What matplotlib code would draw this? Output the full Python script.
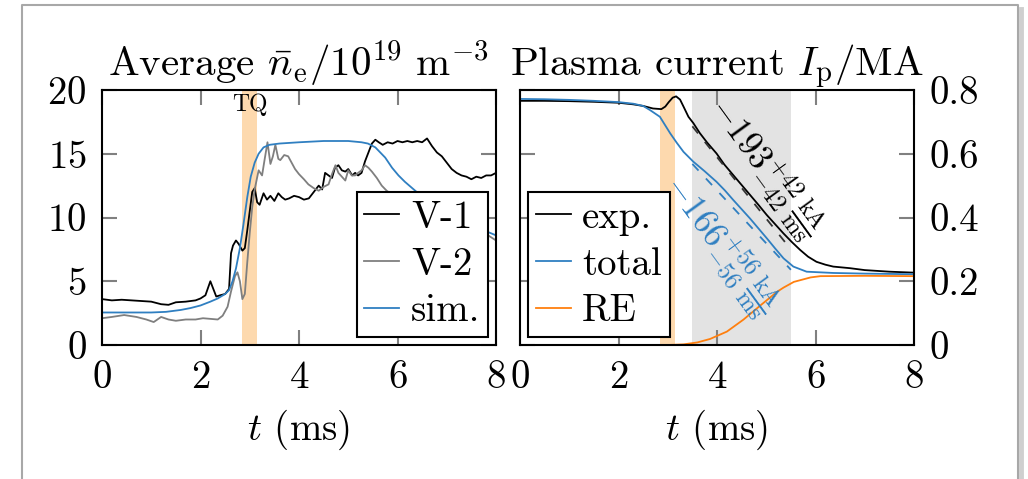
import numpy as np
import matplotlib
matplotlib.use('Agg')
import matplotlib.pyplot as plt
from matplotlib.lines import Line2D

plt.rcParams['font.family'] = 'serif'
plt.rcParams['font.serif'] = ['cmr10']
plt.rcParams['mathtext.fontset'] = 'cm'
plt.rcParams['axes.unicode_minus'] = False
plt.rcParams['axes.formatter.use_mathtext'] = True

# density panel
t_v1 = [0, 0.2, 0.4, 0.6, 0.8, 1.0, 1.2, 1.35, 1.5, 1.7, 1.9, 2.0, 2.1, 2.2, 2.25, 2.32, 2.4, 2.5,
        2.58, 2.62, 2.66, 2.72, 2.78, 2.85, 2.9, 2.95, 3.0, 3.05, 3.1, 3.15, 3.2, 3.28, 3.35, 3.42,
        3.5, 3.58, 3.65, 3.72, 3.8, 3.9, 4.0, 4.1, 4.2, 4.3, 4.4, 4.47, 4.53, 4.6, 4.67, 4.73, 4.8,
        4.87, 4.94, 5.0, 5.08, 5.14, 5.2, 5.27, 5.34, 5.4, 5.48, 5.55, 5.62, 5.7, 5.8, 5.9, 6.0,
        6.1, 6.2, 6.3, 6.4, 6.5, 6.6, 6.7, 6.8, 6.9, 7.0, 7.1, 7.2, 7.3, 7.4, 7.5, 7.6, 7.7, 7.8,
        7.9, 8.0]
ne_v1 = [3.6, 3.5, 3.55, 3.5, 3.45, 3.4, 3.2, 3.15, 3.35, 3.4, 3.5, 3.65, 3.9, 5.0, 4.5, 3.8, 3.9, 4.0,
         4.4, 7.2, 7.8, 8.2, 7.9, 7.4, 7.6, 9.0, 10.5, 12.0, 12.3, 11.2, 11.0, 11.9, 11.4, 11.7,
         11.3, 11.9, 11.6, 11.4, 11.5, 11.7, 11.6, 11.4, 11.5, 12.0, 12.5, 12.2, 13.5, 13.3, 13.1, 13.9, 14.1,
         13.7, 13.6, 13.8, 13.3, 13.5, 13.3, 13.5, 14.4, 15.0, 15.8, 16.1, 15.9, 15.7, 15.9, 15.8, 16.0,
         15.9, 16.0, 15.9, 16.0, 15.9, 16.2, 15.6, 15.1, 14.8, 14.3, 13.8, 13.5, 13.3, 13.2, 13.0, 13.2, 13.1, 13.3,
         13.3, 13.5]

t_v2 = [0, 0.2, 0.45, 0.7, 0.9, 1.05, 1.2, 1.35, 1.5, 1.7, 1.9, 2.05, 2.2, 2.35, 2.45, 2.55, 2.62,
        2.7, 2.75, 2.8, 2.85, 2.9, 2.95, 3.0, 3.05, 3.1, 3.18, 3.25, 3.3, 3.36, 3.42, 3.47, 3.52,
        3.58, 3.62, 3.7, 3.78, 3.85, 3.92, 4.0, 4.1, 4.19, 4.3, 4.4, 4.5, 4.6, 4.67, 4.74, 4.8, 4.87,
        4.94, 5.0, 5.07, 5.14, 5.2, 5.27, 5.34, 5.41, 5.48, 5.58, 5.68, 5.78, 6.0, 6.5, 7.0, 7.5,
        7.84, 8.0]
ne_v2 = [2.1, 2.2, 2.35, 2.2, 2.0, 1.8, 2.2, 2.0, 1.9, 2.0, 2.0, 2.1, 2.05, 2.0, 2.3, 3.0, 4.2,
         5.4, 5.7, 5.0, 3.6, 4.0, 6.5, 8.8, 10.8, 12.2, 13.7, 13.3, 14.5, 15.9, 14.2, 14.8, 15.7,
         14.6, 14.5, 14.9, 14.8, 14.3, 13.8, 13.4, 13.0, 12.6, 12.3, 12.1, 12.4, 12.6, 13.4, 14.1, 13.5, 13.2,
         12.9, 13.7, 13.3, 13.3, 13.5, 13.7, 14.1, 13.9, 13.6, 13.1, 12.5, 12.1, 11.5, 10.5, 9.8, 9.0,
         8.6, 8.2]

t_sim = [0, 0.5, 1.0, 1.3, 1.6, 1.8, 2.0, 2.2, 2.35, 2.5, 2.58, 2.65, 2.72, 2.8, 2.87, 2.95, 3.02,
         3.1, 3.18, 3.28, 3.4, 3.6, 4.0, 4.5, 5.0, 5.27, 5.4, 5.55, 5.65, 5.75, 5.89, 6.02, 6.15,
         6.33, 6.6, 7.0, 7.5, 8.0]
ne_sim = [2.55, 2.55, 2.55, 2.6, 2.75, 2.9, 3.1, 3.4, 3.65, 4.0, 4.3, 5.0, 6.0, 7.6, 9.4, 11.6, 13.2,
          14.3, 15.0, 15.5, 15.7, 15.8, 15.9, 16.0, 16.0, 15.9, 15.8, 15.5, 15.1, 14.7, 13.9, 13.3, 12.8,
          12.2, 11.3, 10.3, 9.4, 8.6]

# current panel
t_exp = [0, 0.5, 1.0, 1.5, 2.0, 2.3, 2.5, 2.7, 2.87, 2.95, 3.02, 3.1, 3.17, 3.25, 3.32, 3.42, 3.52,
         3.65, 3.8, 3.99, 4.15, 4.33, 4.5, 4.67, 4.84, 5.01, 5.18, 5.35, 5.52, 5.69, 5.85, 6.02, 6.2,
         6.36, 6.7, 7.0, 7.5, 8.0]
ip_exp = [0.766, 0.766, 0.765, 0.763, 0.76, 0.755, 0.75, 0.742, 0.74, 0.748, 0.762, 0.776, 0.78, 0.77,
          0.748, 0.716, 0.696, 0.665, 0.635, 0.601, 0.566, 0.533, 0.502, 0.471, 0.44, 0.408, 0.379,
          0.35, 0.323, 0.298, 0.277, 0.261, 0.252, 0.246, 0.241, 0.235, 0.23, 0.227]

t_tot = [0, 0.5, 1.0, 1.5, 2.0, 2.3, 2.5, 2.64, 2.84, 3.05, 3.18, 3.32, 3.52, 3.75, 3.99, 4.16, 4.33,
         4.5, 4.67, 4.84, 5.01, 5.18, 5.35, 5.55, 5.82, 6.36, 7.0, 8.0]
ip_tot = [0.772, 0.771, 0.769, 0.766, 0.762, 0.757, 0.75, 0.737, 0.716, 0.664, 0.635, 0.606, 0.575,
          0.545, 0.512, 0.485, 0.455, 0.426, 0.397, 0.366, 0.335, 0.303, 0.272, 0.246, 0.23, 0.226,
          0.224, 0.222]

t_re = [2.45, 3.0, 3.32, 3.6, 3.86, 4.2, 4.54, 4.88, 5.22, 5.35, 5.56, 5.9, 6.1, 7.0, 8.0]
ip_re = [0.0, 0.0, 0.002, 0.008, 0.019, 0.042, 0.08, 0.124, 0.167, 0.18, 0.198, 0.212, 0.216, 0.217, 0.216]

# linear fits in the gray window (MA/ms)
fit_t = [3.5, 5.5]
fit_exp = [0.686, 0.300]
fit_tot = [0.568, 0.236]

tq_band = (2.85, 3.15)
cq_band = (3.5, 5.5)

xticks = [0, 2, 4, 6, 8]
ne_ticks = [0, 5, 10, 15, 20]
ip_ticks = [0, 0.2, 0.4, 0.6, 0.8]
ip_ticklabels = ['0', '0.2', '0.4', '0.6', '0.8']

blue = '#2f7fc1'
orange = '#ff7f0e'
fs = 28

W, H = 1028, 479
fig = plt.figure(figsize=(W / 100, H / 100), dpi=100)

# page frame with shadow
fig.add_artist(Line2D([1021 / W, 1021 / W], [0, 1 - 9 / H], transform=fig.transFigure,
                      color='#cfcfcf', lw=3.5))
fig.add_artist(Line2D([22 / W, 22 / W, 1018 / W, 1018 / W], [0, 1 - 5 / H, 1 - 5 / H, 0],
                      transform=fig.transFigure, color='#a8a8a8', lw=1.5))

ax1 = fig.add_axes([102 / W, (H - 345) / H, 394 / W, 255 / H])
ax2 = fig.add_axes([520 / W, (H - 345) / H, 394 / W, 255 / H])


def style(ax):
    ax.set_xlim(0, 8)
    ax.set_xticks(xticks)
    ax.tick_params(direction='in', length=11, width=1.5, color='#808080',
                   top=True, right=True, labelsize=fs, pad=11)
    for s in ax.spines.values():
        s.set_linewidth(1.5)
    ax.set_xlabel(r'$t$ (ms)', fontsize=fs, labelpad=8)


ax1.axvspan(*tq_band, color='#fdd9ae', lw=0)
ax1.plot(t_v1, ne_v1, color='black', lw=1.3, label='V-1')
ax1.plot(t_v2, ne_v2, color='#7f7f7f', lw=1.3, label='V-2')
ax1.plot(t_sim, ne_sim, color=blue, lw=1.3, label='sim.')
ax1.set_ylim(0, 20)
ax1.set_yticks(ne_ticks)
style(ax1)
ax1.text(np.mean(tq_band), 19.7, 'TQ', ha='center', va='top', fontsize=17)
ax1.set_title(r'Average $\bar{n}_\mathrm{e}/10^{19}\ \mathrm{m}^{-3}$', fontsize=29.5, pad=10)
leg1 = ax1.legend(loc='lower right', fontsize=fs, frameon=True, fancybox=False,
                  edgecolor='black', framealpha=1, borderaxespad=0.2,
                  handlelength=0.9, handletextpad=0.3, labelspacing=0.28, borderpad=0.2)
leg1.get_frame().set_linewidth(1.5)

ax2.axvspan(*tq_band, color='#fdd9ae', lw=0)
ax2.axvspan(*cq_band, color='#e3e3e3', lw=0)
ax2.plot(t_exp, ip_exp, color='black', lw=1.3, label='exp.')
ax2.plot(t_tot, ip_tot, color=blue, lw=1.3, label='total')
ax2.plot(t_re, ip_re, color=orange, lw=1.3, label='RE')
ax2.plot(fit_t, fit_exp, color='#333333', lw=1.3, ls=(0, (5, 6)))
ax2.plot(fit_t, fit_tot, color=blue, lw=1.3, ls=(0, (5, 6)))
ax2.text(4.98, 0.556, r'$-193^{+42}_{-42}\,\frac{\mathrm{kA}}{\mathrm{ms}}$', fontsize=25,
         rotation=-54, rotation_mode='anchor', ha='center', va='center', color='black')
ax2.text(4.06, 0.314, r'$-166^{+56}_{-56}\,\frac{\mathrm{kA}}{\mathrm{ms}}$', fontsize=25,
         rotation=-54, rotation_mode='anchor', ha='center', va='center', color=blue)
ax2.set_ylim(0, 0.8)
ax2.set_yticks(ip_ticks)
ax2.set_yticklabels(ip_ticklabels)
style(ax2)
ax2.tick_params(labelleft=False, labelright=True)
ax2.set_title(r'Plasma current $I_\mathrm{p}/\mathrm{MA}$', fontsize=29.5, pad=10)
leg2 = ax2.legend(loc='lower left', fontsize=fs, frameon=True, fancybox=False,
                  edgecolor='black', framealpha=1, borderaxespad=0.2,
                  handlelength=0.9, handletextpad=0.3, labelspacing=0.28, borderpad=0.2)
leg2.get_frame().set_linewidth(1.5)

fig.savefig('out.png', dpi=100)
